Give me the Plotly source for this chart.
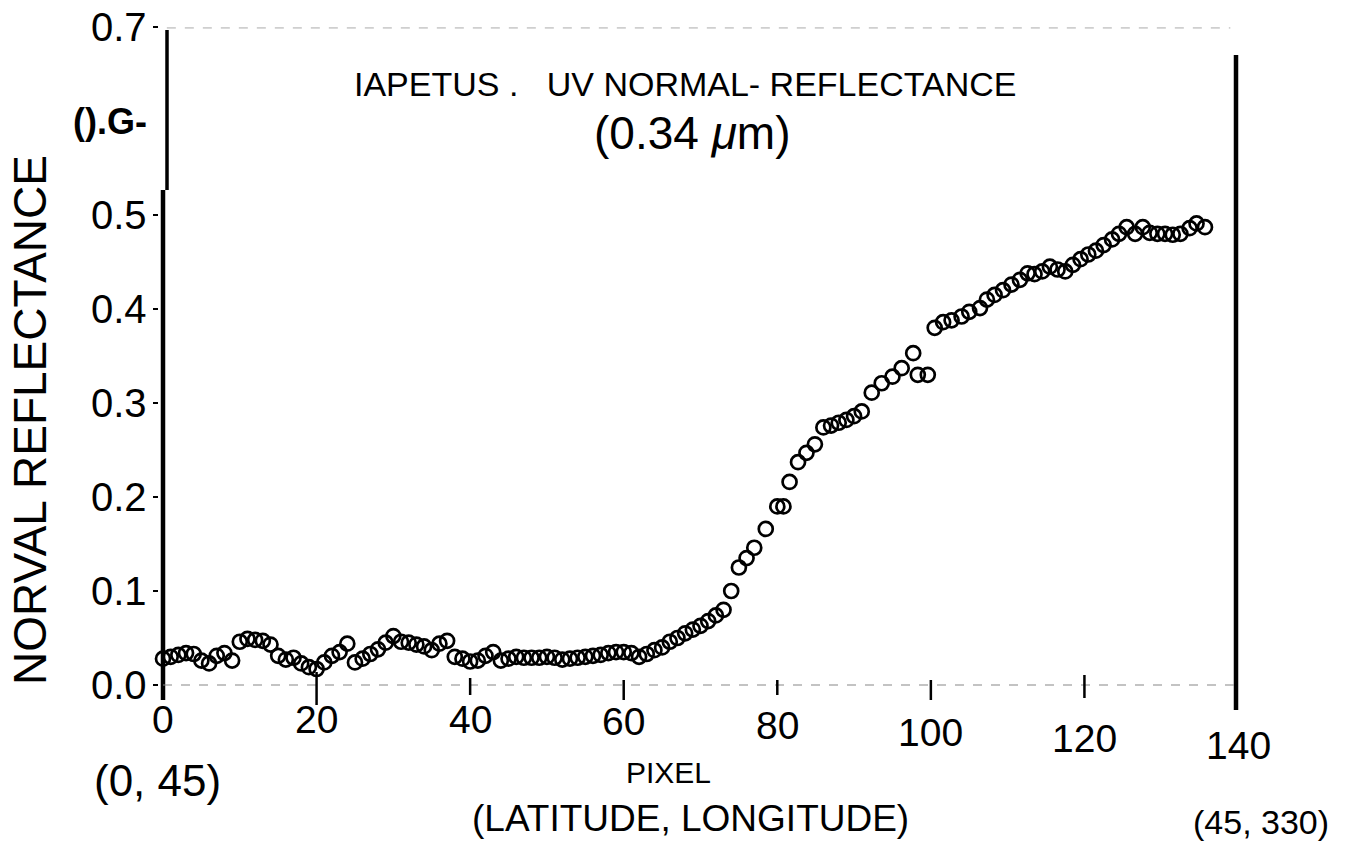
import plotly.graph_objects as go

# ---- data ----
pixel = [0, 1, 2, 3, 4, 5, 6, 7, 8, 9, 10, 11, 12, 13, 14, 15, 16, 17, 18, 19,
         20, 21, 22, 23, 24, 25, 26, 27, 28, 29, 30, 31, 32, 33, 34, 35, 36, 37, 38, 39,
         40, 41, 42, 43, 44, 45, 46, 47, 48, 49, 50, 51, 52, 53, 54, 55, 56, 57, 58, 59,
         60, 61, 62, 63, 64, 65, 66, 67, 68, 69, 70, 71, 72, 73, 74, 75, 76, 77, 78.5,
         80, 80.8, 81.6, 82.7, 83.8, 84.9, 86, 87, 88, 89, 90, 91, 92.3, 93.6, 95, 96.2,
         97.7, 98.3, 99.6, 100.5, 101.6, 102.7, 104, 105, 106.4, 107.3, 108.3, 109.4,
         110.5, 111.6, 112.6, 113.5, 114.5, 115.5, 116.5, 117.5, 118.5, 119.5, 120.5,
         121.5, 122.5, 123.6, 124.5, 125.5, 126.6, 127.6, 128.5, 129.5, 130.5, 131.5,
         132.5, 133.7, 134.6, 135.7]
reflectance = [0.028, 0.030, 0.032, 0.034, 0.033, 0.026, 0.023, 0.031, 0.034, 0.026,
               0.046, 0.049, 0.048, 0.047, 0.043, 0.031, 0.027, 0.029, 0.023, 0.019,
               0.017, 0.024, 0.031, 0.035, 0.044, 0.024, 0.028, 0.033, 0.038, 0.045,
               0.052, 0.046, 0.045, 0.043, 0.041, 0.037, 0.044, 0.047, 0.030, 0.028,
               0.025, 0.026, 0.031, 0.035, 0.026, 0.028, 0.030, 0.029, 0.029, 0.029,
               0.030, 0.029, 0.027, 0.028, 0.029, 0.030, 0.031, 0.032, 0.034, 0.035,
               0.035, 0.034, 0.030, 0.033, 0.037, 0.040, 0.046, 0.050, 0.055, 0.059,
               0.063, 0.068, 0.074, 0.080, 0.100, 0.125, 0.135, 0.146, 0.166,
               0.190, 0.190, 0.216, 0.237, 0.247, 0.256, 0.274, 0.276, 0.279, 0.282, 0.286,
               0.291, 0.311, 0.321, 0.328, 0.337,
               0.353, 0.330, 0.330, 0.380, 0.386, 0.388, 0.392, 0.397, 0.401, 0.410,
               0.415, 0.420, 0.426, 0.431, 0.438, 0.437, 0.440, 0.445, 0.442, 0.440,
               0.447, 0.453, 0.458, 0.462, 0.468, 0.474, 0.480, 0.487, 0.480, 0.487,
               0.481, 0.480, 0.480, 0.479, 0.480, 0.486, 0.491, 0.487]

x_tick_vals = [0, 20, 40, 60, 80, 100, 120, 140]
x_tick_text = ["0", "20", "40", "60", "80", "100", "120", "140"]
x_tick_drop = [0.0, 0.0, 0.0, 0.002, 0.006, 0.013, 0.020, 0.027]
y_tick_vals = [0.0, 0.1, 0.2, 0.3, 0.4, 0.5, 0.6, 0.7]
y_tick_text = ["0.0", "0.1", "0.2", "0.3", "0.4", "0.5", "<b>().G-</b>", "0.7"]

FONT = "Liberation Sans"
W, H = 1345, 849
X0_PX, XS = 163.0, 1075.0 / 140.0      # px of x=0, px per unit
Y0_PX, YS = 685.0, 940.0               # px of y=0, px per unit


def px_x(p):
    return (p - X0_PX) / XS


def px_y(p):
    return (Y0_PX - p) / YS


fig = go.Figure()
fig.add_trace(go.Scatter(
    x=pixel, y=reflectance, mode="markers",
    marker=dict(symbol="circle-open", size=14, color="black", line=dict(width=2.7)),
    showlegend=False, hoverinfo="skip", cliponaxis=False))

fig.update_layout(
    width=W, height=H,
    margin=dict(l=0, r=0, t=0, b=0),
    paper_bgcolor="white", plot_bgcolor="white",
    xaxis=dict(range=[px_x(0), px_x(W)], showgrid=False, zeroline=False, showline=False,
               showticklabels=False, ticks="", fixedrange=True),
    yaxis=dict(range=[px_y(H), px_y(0)], showgrid=False, zeroline=False, showline=False,
               showticklabels=False, ticks="", fixedrange=True),
)

shapes = []
# left thick axis line
shapes.append(dict(type="line", xref="x", yref="y", x0=0, x1=0, y0=px_y(700), y1=px_y(190),
                   line=dict(color="black", width=4.5)))
shapes.append(dict(type="line", xref="x", yref="y", x0=px_x(167), x1=px_x(167),
                   y0=px_y(190), y1=px_y(30), line=dict(color="black", width=3.5)))
# right thick line
shapes.append(dict(type="line", xref="x", yref="y", x0=px_x(1236), x1=px_x(1236),
                   y0=px_y(710), y1=px_y(55), line=dict(color="black", width=4.5)))
# bottom and top faint dashed lines
shapes.append(dict(type="line", xref="x", yref="y", x0=0, x1=140, y0=0.0, y1=0.0,
                   line=dict(color="#888888", width=1.2, dash="dash")))
shapes.append(dict(type="line", xref="x", yref="y", x0=0.5, x1=139, y0=0.699, y1=0.699,
                   line=dict(color="#aaaaaa", width=1, dash="dash")))
# x tick marks
for xv, lo, hi in [(20, 705, 672), (40, 695, 678), (60, 700, 680),
                   (80, 695, 680), (100, 700, 680), (120, 698, 675)]:
    shapes.append(dict(type="line", xref="x", yref="y", x0=xv, x1=xv,
                       y0=px_y(lo), y1=px_y(hi), line=dict(color="black", width=2.5)))
# y tick dashes
for yv in y_tick_vals:
    if yv == 0.6:
        continue
    shapes.append(dict(type="line", xref="x", yref="y", x0=px_x(153), x1=px_x(158),
                       y0=yv, y1=yv, line=dict(color="black", width=2)))
fig.update_layout(shapes=shapes)

ann = []
for xv, t, d in zip(x_tick_vals, x_tick_text, x_tick_drop):
    ann.append(dict(x=xv, y=-0.037 - d, xref="x", yref="y", text=t, showarrow=False,
                    xanchor="center", yanchor="middle",
                    font=dict(family=FONT, size=39, color="black")))
for yv, t in zip(y_tick_vals, y_tick_text):
    ann.append(dict(x=px_x(149), y=yv, xref="x", yref="y", text=t, showarrow=False,
                    xanchor="right", yanchor="middle",
                    font=dict(family=FONT, size=40 if yv != 0.6 else 36, color="black")))

ann.append(dict(x=px_x(30), y=px_y(420), xref="x", yref="y", text="NORVAL REFLECTANCE",
                showarrow=False, textangle=-90,
                font=dict(family=FONT, size=46, color="black")))
ann.append(dict(x=px_x(685), y=px_y(84), xref="x", yref="y",
                text="IAPETUS .   UV NORMAL- REFLECTANCE", showarrow=False,
                font=dict(family=FONT, size=34, color="black")))
ann.append(dict(x=px_x(692), y=px_y(133), xref="x", yref="y",
                text="(0.34 <i>μ</i>m)", showarrow=False,
                font=dict(family=FONT, size=46, color="black")))
ann.append(dict(x=px_x(668), y=px_y(772), xref="x", yref="y",
                text="PIXEL", showarrow=False,
                font=dict(family=FONT, size=30, color="black")))
ann.append(dict(x=px_x(690), y=px_y(818), xref="x", yref="y",
                text="(LATITUDE, LONGITUDE)", showarrow=False,
                font=dict(family=FONT, size=37, color="black")))
ann.append(dict(x=px_x(157), y=px_y(780), xref="x", yref="y",
                text="(0, 45)", showarrow=False,
                font=dict(family=FONT, size=44, color="black")))
ann.append(dict(x=px_x(1261), y=px_y(822), xref="x", yref="y",
                text="(45, 330)", showarrow=False,
                font=dict(family=FONT, size=34, color="black")))
fig.update_layout(annotations=ann)

fig.write_html("out.html")
